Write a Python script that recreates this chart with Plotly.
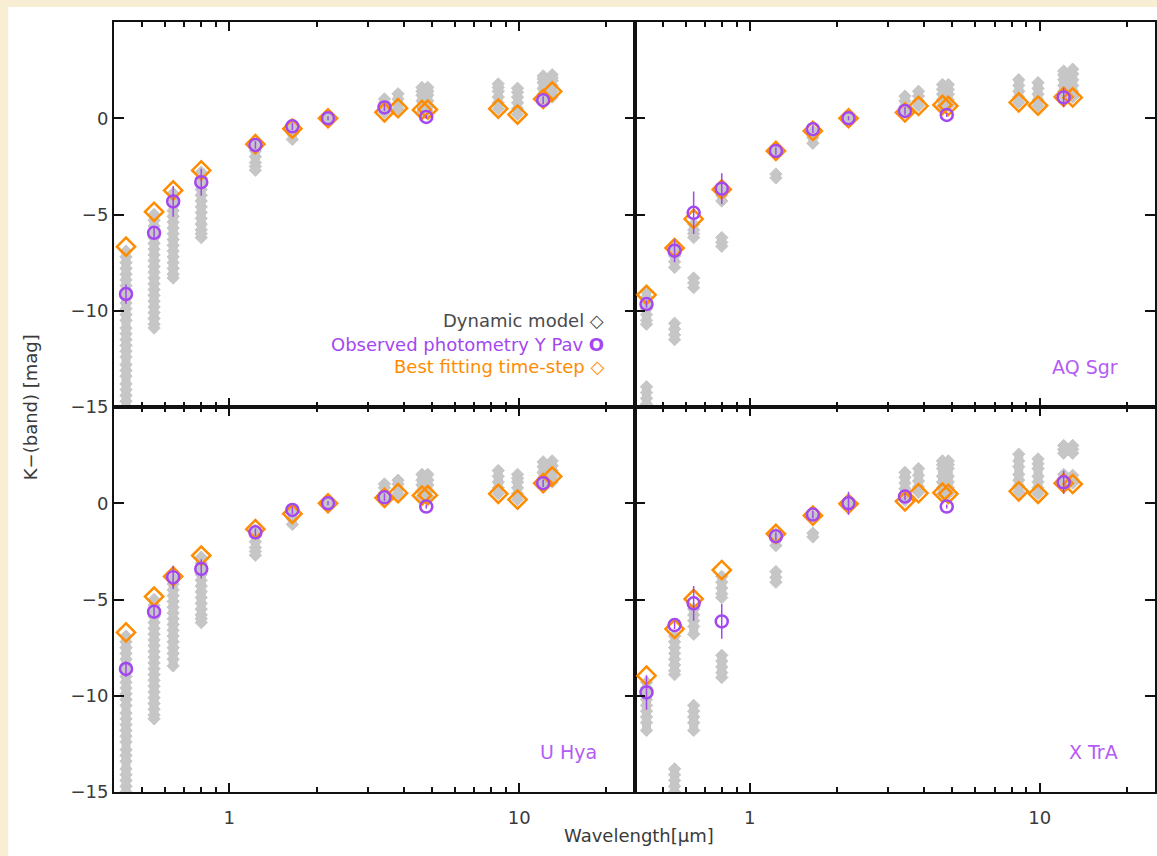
import math
import plotly.graph_objects as go
from plotly.subplots import make_subplots

# ---------------- data ----------------
wavelengths = [0.44, 0.55, 0.64, 0.80, 1.23, 1.65, 2.19, 3.43, 3.82, 4.62, 4.84, 8.47, 9.87, 12.1, 13.0]
obs_wavelengths = [0.44, 0.55, 0.64, 0.80, 1.23, 1.65, 2.19, 3.43, 4.78, 12.1]

# Y Pav
ypav_best = [-6.67, -4.86, -3.75, -2.71, -1.35, -0.54, 0.0, 0.31, 0.52, 0.43, 0.45, 0.50, 0.19, 1.0, 1.39]
ypav_obs = [-9.13, -5.95, -4.32, -3.32, -1.39, -0.42, 0.0, 0.56, 0.07, 0.94]
ypav_err = [0.5, 0.3, 0.8, 0.7, 0.2, 0.2, 0.1, 0.2, 0.1, 0.2]
ypav_model = [
    [-6.9, -7.2, -7.5, -7.8, -8.1, -8.4, -8.7, -9.0, -9.3, -9.6, -9.9, -10.2, -10.5, -10.9, -11.2, -11.5,
     -11.8, -12.1, -12.4, -12.8, -13.1, -13.4, -13.8, -14.1, -14.4, -14.7, -15.0, -15.3],
    [-5.0, -5.3, -5.6, -5.9, -6.2, -6.5, -6.8, -7.1, -7.4, -7.7, -8.0, -8.3, -8.6, -8.9, -9.2, -9.5,
     -9.8, -10.1, -10.4, -10.7, -10.9],
    [-3.9, -4.2, -4.5, -4.8, -5.1, -5.4, -5.7, -6.0, -6.3, -6.6, -6.9, -7.2, -7.5, -7.8, -8.1, -8.3],
    [-2.8, -3.1, -3.4, -3.7, -4.0, -4.3, -4.6, -4.9, -5.2, -5.5, -5.8, -6.0, -6.2],
    [-1.4, -1.7, -2.0, -2.3, -2.5, -2.7],
    [-0.5, -0.8, -1.1],
    [0.0],
    [0.3, 0.55, 0.8, 1.0],
    [0.5, 0.75, 1.0, 1.27],
    [0.3, 0.6, 0.9, 1.2, 1.4, 1.6],
    [0.3, 0.6, 0.9, 1.2, 1.4, 1.6],
    [0.5, 0.8, 1.1, 1.4, 1.6, 1.78],
    [0.2, 0.5, 0.8, 1.1, 1.35, 1.56],
    [0.95, 1.25, 1.55, 1.85, 2.05, 2.2],
    [1.1, 1.4, 1.7, 1.95, 2.1, 2.26],
]

# AQ Sgr
aqsgr_best = [-9.17, -6.74, -5.23, -3.70, -1.70, -0.66, 0.0, 0.30, 0.64, 0.69, 0.64, 0.82, 0.66, 1.11, 1.08]
aqsgr_obs = [-9.65, -6.88, -4.91, -3.66, -1.70, -0.57, 0.0, 0.38, 0.17, 1.08]
aqsgr_err = [0.2, 0.6, 1.1, 0.8, 0.2, 0.2, 0.1, 0.2, 0.1, 0.5]
aqsgr_model = [
    [-9.0, -9.3, -9.6, -9.9, -10.2, -10.5, -10.7, -13.95, -14.25, -14.55, -14.85, -15.2],
    [-6.55, -6.85, -7.15, -7.45, -7.75, -10.65, -10.95, -11.25, -11.5],
    [-5.5, -5.8, -6.0, -6.2, -8.3, -8.55, -8.8],
    [-3.7, -4.0, -4.3, -6.2, -6.45, -6.65],
    [-1.7, -2.9, -3.1],
    [-0.66, -1.0, -1.3],
    [0.0],
    [0.3, 0.6, 0.9, 1.15],
    [0.65, 0.9, 1.15, 1.4],
    [0.65, 0.95, 1.25, 1.5, 1.75],
    [0.65, 0.95, 1.25, 1.5, 1.75],
    [0.82, 1.1, 1.4, 1.7, 2.0],
    [0.65, 0.95, 1.25, 1.55, 1.85],
    [1.1, 1.4, 1.7, 2.0, 2.25, 2.45],
    [1.1, 1.4, 1.7, 2.0, 2.3, 2.55],
]

# U Hya
uhya_best = [-6.71, -4.85, -3.80, -2.72, -1.35, -0.55, 0.0, 0.28, 0.52, 0.40, 0.42, 0.49, 0.19, 1.04, 1.39]
uhya_obs = [-8.61, -5.63, -3.85, -3.41, -1.51, -0.35, 0.0, 0.31, -0.17, 1.04]
uhya_err = [0.4, 0.3, 0.6, 0.5, 0.2, 0.2, 0.1, 0.2, 0.1, 0.2]
uhya_model = [
    [-6.9, -7.2, -7.5, -7.8, -8.1, -8.4, -8.7, -9.0, -9.3, -9.6, -9.9, -10.2, -10.5, -10.9, -11.2, -11.5,
     -11.8, -12.1, -12.4, -12.8, -13.1, -13.4, -13.8, -14.1, -14.4, -14.7, -15.0, -15.3],
    [-5.0, -5.3, -5.6, -5.9, -6.2, -6.5, -6.8, -7.1, -7.4, -7.7, -8.0, -8.3, -8.6, -8.9, -9.2, -9.5,
     -9.8, -10.1, -10.4, -10.7, -11.0, -11.2],
    [-3.9, -4.2, -4.5, -4.8, -5.1, -5.4, -5.7, -6.0, -6.3, -6.6, -6.9, -7.2, -7.5, -7.8, -8.1, -8.45],
    [-2.8, -3.1, -3.4, -3.7, -4.0, -4.3, -4.6, -4.9, -5.2, -5.5, -5.8, -6.0, -6.2],
    [-1.4, -1.7, -2.0, -2.3, -2.5, -2.7],
    [-0.5, -0.8, -1.1],
    [0.0],
    [0.3, 0.55, 0.8, 1.0],
    [0.5, 0.75, 1.0, 1.2],
    [0.35, 0.65, 0.95, 1.2, 1.5],
    [0.35, 0.65, 0.95, 1.2, 1.5],
    [0.5, 0.8, 1.1, 1.4, 1.7],
    [0.2, 0.5, 0.8, 1.1, 1.3, 1.5],
    [1.0, 1.3, 1.6, 1.9, 2.15],
    [1.1, 1.4, 1.7, 1.95, 2.2],
]

# X TrA
xtra_best = [-8.96, -6.53, -4.97, -3.47, -1.59, -0.64, -0.03, 0.10, 0.52, 0.55, 0.49, 0.62, 0.49, 1.04, 1.00]
xtra_obs = [-9.83, -6.33, -5.20, -6.14, -1.72, -0.59, 0.0, 0.35, -0.17, 1.09]
xtra_err = [0.9, 0.2, 0.9, 0.9, 0.2, 0.2, 0.6, 0.2, 0.1, 0.6]
xtra_model = [
    [-9.3, -9.6, -9.9, -10.2, -10.5, -10.8, -11.1, -11.4, -11.8],
    [-6.9, -7.2, -7.5, -7.8, -8.1, -8.4, -8.7, -8.9, -13.8, -14.1, -14.4, -14.7, -15.0, -15.3],
    [-5.5, -5.8, -6.1, -6.4, -6.8, -10.5, -10.8, -11.1, -11.4, -11.8],
    [-3.8, -4.1, -4.4, -4.7, -4.9, -7.9, -8.2, -8.5, -8.8, -9.05],
    [-1.6, -1.9, -2.2, -3.55, -3.85, -4.1],
    [-0.64, -1.55, -1.75],
    [0.0],
    [0.15, 0.45, 0.75, 1.05, 1.35, 1.6],
    [0.57, 0.85, 1.15, 1.45, 1.8],
    [0.5, 0.8, 1.1, 1.4, 1.8, 2.0, 2.2],
    [0.5, 0.8, 1.1, 1.4, 1.8, 2.0, 2.2],
    [0.6, 0.9, 1.2, 1.5, 1.9, 2.2, 2.55],
    [0.5, 0.8, 1.1, 1.4, 1.8, 2.05, 2.3],
    [1.05, 1.3, 1.5, 2.6, 2.8, 3.0],
    [1.05, 1.25, 1.45, 2.6, 2.8, 3.0],
]

star_names = ["Y Pav", "AQ Sgr", "U Hya", "X TrA"]
x_tick_values = [1, 10]
x_tick_labels = ["1", "10"]
x_minor_values = [0.5, 0.6, 0.7, 0.8, 0.9, 2, 3, 4, 5, 6, 7, 8, 9, 20]
y_tick_values = [0, -5, -10, -15]
y_tick_labels = ["0", "\u22125", "\u221210", "\u221215"]

# ---------------- styling ----------------
FONT = "DejaVu Sans"
GRAY = "#c6c6c6"
ORANGE = "#ff8c00"
PURPLE = "#a347f0"
LABEL_PURPLE = "#b45cf5"
CREAM = "#f8eed3"
TXT = "#3a3a3a"

panels = [
    (1, 1, ypav_best, ypav_obs, ypav_err, ypav_model),
    (1, 2, aqsgr_best, aqsgr_obs, aqsgr_err, aqsgr_model),
    (2, 1, uhya_best, uhya_obs, uhya_err, uhya_model),
    (2, 2, xtra_best, xtra_obs, xtra_err, xtra_model),
]

fig = make_subplots(rows=2, cols=2, horizontal_spacing=0, vertical_spacing=0)

for row, col, best, obs, err, model in panels:
    mx, my = [], []      # individual model time-steps
    lx, ly = [], []      # joined runs of model time-steps (dense stacks)
    for wl, vals in zip(wavelengths, model):
        prev = None
        for v in vals:
            mx.append(wl)
            my.append(v)
            if prev is not None and abs(v - prev) > 0.6:
                lx.append(None)
                ly.append(None)
            lx.append(wl)
            ly.append(v)
            prev = v
        lx.append(None)
        ly.append(None)
    fig.add_trace(go.Scatter(
        x=lx, y=ly, mode="lines", showlegend=False, hoverinfo="skip", connectgaps=False,
        line=dict(color=GRAY, width=9)), row=row, col=col)
    fig.add_trace(go.Scatter(
        x=mx, y=my, mode="markers", showlegend=False, hoverinfo="skip",
        marker=dict(symbol="diamond", size=9.5, color=GRAY, line=dict(width=1, color=GRAY))),
        row=row, col=col)
    fig.add_trace(go.Scatter(
        x=wavelengths, y=best, mode="markers", showlegend=False,
        marker=dict(symbol="diamond-open", size=14, color=ORANGE, line=dict(width=2.5, color=ORANGE))),
        row=row, col=col)
    fig.add_trace(go.Scatter(
        x=obs_wavelengths, y=obs, mode="markers", showlegend=False,
        error_y=dict(type="data", array=err, color=PURPLE, thickness=1.5, width=0),
        marker=dict(symbol="circle-open", size=12, color=PURPLE, line=dict(width=2.5, color=PURPLE))),
        row=row, col=col)

for row in (1, 2):
    for col in (1, 2):
        fig.update_xaxes(
            type="log", range=[math.log10(0.4), math.log10(25)],
            showline=True, linecolor="#111", linewidth=2, mirror="ticks",
            ticks="inside", ticklen=9, tickwidth=1.5, tickcolor="#111",
            tickvals=x_tick_values, ticktext=x_tick_labels,
            showticklabels=(row == 2), ticklabelstandoff=8,
            minor=dict(tickvals=x_minor_values, ticks="inside", ticklen=5, tickwidth=1.5, tickcolor="#111", showgrid=False),
            showgrid=False, zeroline=False,
            tickfont=dict(family=FONT, size=18, color=TXT),
            row=row, col=col)
        fig.update_yaxes(
            range=[-15, 5],
            showline=True, linecolor="#111", linewidth=2, mirror="ticks",
            ticks="inside", ticklen=10, tickwidth=1.5, tickcolor="#111",
            tickvals=y_tick_values, ticktext=y_tick_labels,
            showticklabels=(col == 1),
            showgrid=False, zeroline=False,
            tickfont=dict(family=FONT, size=18, color=TXT),
            row=row, col=col)

annotations = []
# legend (top-left panel)
legend_rows = [
    ("Dynamic model \u25c7", "#4a4a4a", -10.52),
    ("Observed photometry Y Pav <b>O</b>", PURPLE, -11.73),
    ("Best fitting time-step \u25c7", ORANGE, -12.9),
]
for text, color, yv in legend_rows:
    annotations.append(dict(text=text, xref="x", yref="y", x=math.log10(20.0), y=yv,
                            xanchor="right", yanchor="middle", showarrow=False,
                            font=dict(family=FONT, size=18, color=color)))
# star names
for name, (xr, yr) in zip(star_names[1:], [("x2", "y2"), ("x3", "y3"), ("x4", "y4")]):
    annotations.append(dict(text=name, xref=xr, yref=yr, x=math.log10(18.9), y=-12.9,
                            xanchor="right", yanchor="middle", showarrow=False,
                            font=dict(family=FONT, size=19, color=LABEL_PURPLE)))
# axis titles
annotations.append(dict(text="Wavelength[\u03bcm]", xref="paper", yref="paper",
                        x=0.504, y=-0.057, xanchor="center", yanchor="middle", showarrow=False,
                        font=dict(family=FONT, size=18, color=TXT)))
annotations.append(dict(text="K\u2212(band) [mag]", xref="paper", yref="paper",
                        x=-0.0805, y=0.5, xanchor="center", yanchor="middle", showarrow=False,
                        textangle=-90, font=dict(family=FONT, size=18, color=TXT)))

fig.update_layout(
    width=1157, height=856,
    margin=dict(l=114, r=0, t=22, b=64),
    paper_bgcolor=CREAM, plot_bgcolor="white",
    showlegend=False,
    annotations=annotations,
    shapes=[dict(type="rect", xref="paper", yref="paper", x0=-0.1016, x1=1.05, y0=-0.2, y1=1.0195,
                 fillcolor="white", line=dict(width=0), layer="below")],
)

fig.write_html("out.html")
